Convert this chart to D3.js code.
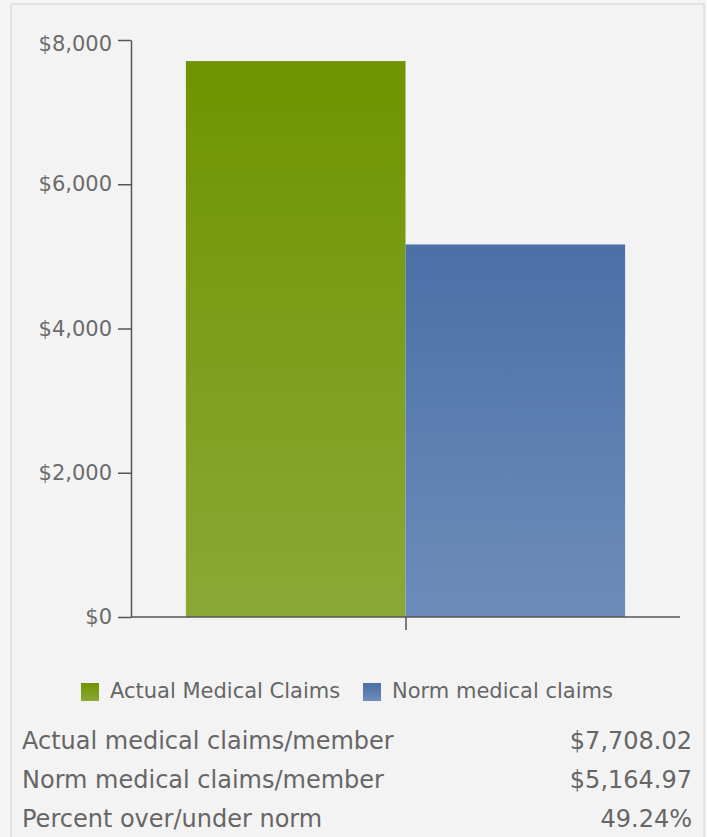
<!DOCTYPE html>
<html>
<head>
<meta charset="utf-8">
<script src="https://cdn.jsdelivr.net/npm/d3@7"></script>
<style>
  html, body { margin: 0; padding: 0; background: #f5f5f5; }
  svg { display: block; font-family: "DejaVu Sans", Verdana, sans-serif; }
</style>
</head>
<body>
<svg id="chart" width="707" height="837"></svg>
<script>
// Per-member medical claims: actual vs. norm
const categories = ["Medical claims"];
const seriesNames = ["Actual Medical Claims", "Norm medical claims"];
const seriesValues = [7708.02, 5164.97];
const yTicks = [0, 2000, 4000, 6000, 8000];
const tableLabels = ["Actual medical claims/member", "Norm medical claims/member", "Percent over/under norm"];

const colors = [
  { top: "#6e9400", bottom: "#8ba835" },
  { top: "#4a70a6", bottom: "#6e8cba" }
];

const svg = d3.select("#chart");
const W = 707, H = 837;
const plot = { left: 131, right: 680, top: 40, bottom: 617 };

// panel
svg.append("rect")
  .attr("x", 11).attr("y", 4)
  .attr("width", 693).attr("height", H + 10)
  .attr("fill", "#f3f3f3")
  .attr("stroke", "#e2e2e2")
  .attr("stroke-width", 2);

// gradients
const defs = svg.append("defs");
colors.forEach((c, i) => {
  const g = defs.append("linearGradient")
    .attr("id", "grad" + i)
    .attr("x1", 0).attr("y1", 0).attr("x2", 0).attr("y2", 1);
  g.append("stop").attr("offset", "0%").attr("stop-color", c.top);
  g.append("stop").attr("offset", "100%").attr("stop-color", c.bottom);
});

const y = d3.scaleLinear().domain([0, 8000]).range([plot.bottom, plot.top]);
const x0 = d3.scaleBand().domain(categories).range([plot.left, plot.right])
  .paddingInner(0.2).paddingOuter(0.1);
const x1 = d3.scaleBand().domain(seriesNames).range([0, x0.bandwidth()]).padding(0);

// bars
const rows = seriesNames.map((s, i) => ({ series: s, value: seriesValues[i], i }));
svg.append("g").selectAll("rect")
  .data(rows)
  .join("rect")
  .attr("x", d => x0(categories[0]) + x1(d.series))
  .attr("y", d => y(d.value))
  .attr("width", x1.bandwidth())
  .attr("height", d => y(0) - y(d.value))
  .attr("fill", d => `url(#grad${d.i})`);

// y axis
const fmtDollar = d3.format("$,.0f");
const yAxis = svg.append("g")
  .attr("transform", `translate(${plot.left},0)`)
  .call(d3.axisLeft(y).tickValues(yTicks).tickFormat(fmtDollar)
    .tickSize(13).tickSizeOuter(0).tickPadding(6));
yAxis.select(".domain").attr("stroke", "#555").attr("stroke-width", 1.5);
yAxis.selectAll(".tick line").attr("stroke", "#555").attr("stroke-width", 1.5);
yAxis.selectAll(".tick text")
  .attr("fill", "#6b6b6b")
  .style("font-size", "21px")
  .style("font-family", "DejaVu Sans, sans-serif")
  // the topmost label sits a little below its tick so it stays inside the panel
  .attr("dy", d => d === d3.max(yTicks) ? "0.52em" : "0.32em");

// x axis
const xAxis = svg.append("g")
  .attr("transform", `translate(0,${plot.bottom})`)
  .call(d3.axisBottom(d3.scalePoint().domain(categories).range([plot.left, plot.right]).padding(0.5))
    .tickSize(13).tickSizeOuter(0).tickFormat(""));
xAxis.select(".domain").attr("stroke", "#555").attr("stroke-width", 1.5)
  .attr("d", `M${plot.left},0H${plot.right}`);
xAxis.selectAll(".tick line").attr("stroke", "#555").attr("stroke-width", 1.5);

// legend
const legendX = [81, 363];
const legend = svg.append("g").selectAll("g")
  .data(rows)
  .join("g")
  .attr("transform", d => `translate(${legendX[d.i]},683)`);
legend.append("rect")
  .attr("width", 18).attr("height", 18)
  .attr("fill", d => `url(#grad${d.i})`);
legend.append("text")
  .attr("x", 29).attr("y", 15)
  .attr("fill", "#666")
  .style("font-size", "21px")
  .text(d => d.series);

// summary table
const pct = (seriesValues[0] / seriesValues[1] - 1);
const fmtMoney = d3.format("$,.2f");
const tableValues = [fmtMoney(seriesValues[0]), fmtMoney(seriesValues[1]), d3.format(".2%")(pct)];
const table = svg.append("g").selectAll("g")
  .data(tableLabels)
  .join("g")
  .attr("transform", (d, i) => `translate(0,${749 + i * 39})`);
table.append("text")
  .attr("x", 22)
  .attr("fill", "#666")
  .style("font-size", "24px")
  .text(d => d);
table.append("text")
  .attr("x", 692)
  .attr("text-anchor", "end")
  .attr("fill", "#666")
  .style("font-size", "24px")
  .text((d, i) => tableValues[i]);
</script>
</body>
</html>
